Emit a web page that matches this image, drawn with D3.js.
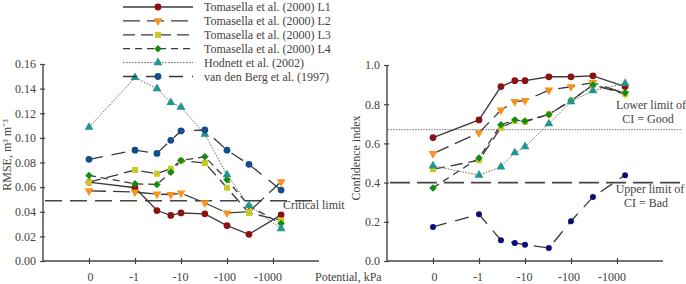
<!DOCTYPE html>
<html><head><meta charset="utf-8">
<script src="https://cdn.jsdelivr.net/npm/d3@7"></script>
<style>body{margin:0;background:#fff}svg{display:block}svg text{font-family:"Liberation Serif","Times New Roman",serif !important;fill:#444}</style>
</head><body><svg id="c" width="686" height="284"></svg>
<script>
// ---- data ----
const potentials = [0, -1, -3, -6, -10, -33, -100, -300, -1500];
const tickValues = [0, -1, -10, -100, -1000];
const tickLabels = ["0", "-1", "-10", "-100", "-1000"];
const seriesNames = ["Tomasella et al. (2000) L1", "Tomasella et al. (2000) L2", "Tomasella et al. (2000) L3",
  "Tomasella et al. (2000) L4", "Hodnett et al. (2002)", "van den Berg et al. (1997)"];
const rmseL1 = [0.064, 0.0595, 0.041, 0.037, 0.039, 0.0383, 0.0288, 0.0217, 0.0375];
const rmseL2 = [0.057, 0.056, 0.0543, 0.054, 0.0551, 0.0472, 0.039, 0.040, 0.0644];
const rmseL3 = [0.064, 0.0739, 0.0709, 0.075, 0.0815, 0.0796, 0.0595, 0.039, 0.033];
const rmseL4 = [0.0695, 0.0627, 0.0622, 0.072, 0.0817, 0.0847, 0.066, 0.0448, 0.0304];
const rmseHod = [0.1086, 0.149, 0.140, 0.1287, 0.125, 0.103, 0.070, 0.045, 0.0263];
const rmseVdb = [0.0826, 0.090, 0.0874, 0.098, 0.1056, 0.1064, 0.090, 0.0785, 0.0576];
const ciL1 = [0.63, 0.72, 0.89, 0.92, 0.92, 0.94, 0.94, 0.945, 0.89];
const ciL2 = [0.548, 0.654, 0.77, 0.813, 0.818, 0.872, 0.889, 0.91, 0.855];
const ciL3 = [0.468, 0.514, 0.68, 0.715, 0.71, 0.748, 0.818, 0.898, 0.852];
const ciL4 = [0.373, 0.526, 0.695, 0.72, 0.714, 0.748, 0.818, 0.898, 0.859];
const ciHod = [0.485, 0.438, 0.48, 0.552, 0.583, 0.70, 0.813, 0.869, 0.906];
const ciVdb = [0.174, 0.238, 0.106, 0.092, 0.083, 0.066, 0.203, 0.327, 0.438];
const rmseTicks = [0, 0.02, 0.04, 0.06, 0.08, 0.10, 0.12, 0.14, 0.16];
const ciTicks = [0, 0.2, 0.4, 0.6, 0.8, 1.0];
const criticalLimit = 0.049;
const ciGood = 0.67;
const ciBad = 0.40;

// ---- styles ----
const FONT = "Liberation Serif";
const styles = [
  {dash: null, shape: "circle", color: "#8b1212"},
  {dash: "17,7", shape: "tri", color: "#f7931e"},
  {dash: "12,6", shape: "square", color: "#c9c926"},
  {dash: "7,5", shape: "diamond", color: "#128c12"},
  {dash: "1.6,1.4", shape: "triup", color: "#21958f", thin: true},
  {dash: "14,9", shape: "circle", color: "#144c8c"}
];
const lineColor = "#3a3a3a";
const svg = d3.select("#c");

function pos(p) { return p === 0 ? 0.1 : Math.abs(p); }

function marker(g, shape, color, x, y, small) {
  let sym, size, rot = 0;
  if (shape === "circle") { sym = d3.symbolCircle; size = small ? 28 : 36; }
  else if (shape === "tri") { sym = d3.symbolTriangle; size = 34; rot = 180; }
  else if (shape === "triup") { sym = d3.symbolTriangle; size = 34; }
  else if (shape === "square") { sym = d3.symbolSquare; size = 36; }
  else { sym = d3.symbolSquare; size = 28; rot = 45; }
  g.append("path").attr("d", d3.symbol(sym, size)())
    .attr("transform", `translate(${x},${y}) rotate(${rot})`).attr("fill", color);
}

function txt(g, x, y, s, anchor) {
  return g.append("text").attr("x", x).attr("y", y).attr("font-size", 12).attr("font-family", FONT)
    .attr("fill", "#444").attr("text-anchor", anchor || "start").text(s);
}

function panel(cfg) {
  const x = d3.scaleLog().domain([0.01, 10000]).range([cfg.x0, cfg.x0 + 276]);
  const y = d3.scaleLinear().domain(cfg.domain).range([261, cfg.top]);
  const g = svg.append("g");
  const ya = d3.axisLeft(y).tickValues(cfg.ticks).tickFormat(d3.format(cfg.fmt)).tickSize(3).tickPadding(4);
  const yg = g.append("g").attr("transform", `translate(${cfg.x0},0)`).call(ya).attr("font-family", FONT);
  yg.select(".domain").attr("stroke", "#444").attr("stroke-width", 1.4).attr("d", `M0,${cfg.top}V261`);
  yg.selectAll(".tick line").attr("stroke", "#444").attr("stroke-width", 1.2).attr("x2", -3).attr("x1", 2);
  yg.selectAll(".tick text").attr("font-size", 12).attr("fill", "#444");
  const xa = d3.axisBottom(x).tickValues(tickValues.map(pos)).tickFormat((d, i) => tickLabels[i]).tickSize(3).tickPadding(8);
  const xg = g.append("g").attr("transform", "translate(0,261)").call(xa).attr("font-family", FONT);
  xg.select(".domain").attr("stroke", "#444").attr("stroke-width", 1.4).attr("d", `M${cfg.x0},0H${cfg.x0 + 276}`);
  xg.selectAll(".tick line").attr("stroke", "#444").attr("stroke-width", 1.2).attr("y1", -3).attr("y2", 3);
  const dxs = [1, -1.5, -1, -2.5, -5.5];
  xg.selectAll(".tick text").attr("font-size", 12).attr("fill", "#444").attr("dx", (d, i) => dxs[i]);
  cfg.refs(g, x, y);
  const line = d3.line().x((d, i) => x(pos(potentials[i]))).y(d => y(d));
  cfg.series.forEach((s, k) => {
    const st = styles[k];
    const p = g.append("path").attr("d", line(s)).attr("fill", "none")
      .attr("stroke", st.thin ? "#6a6a6a" : lineColor).attr("stroke-width", st.thin ? 1 : 1.3);
    if (st.dash) p.attr("stroke-dasharray", st.dash);
  });
  cfg.series.forEach((s, k) => {
    const st = styles[k];
    const isV = k === 5 && cfg.vdbColor;
    const col = isV ? cfg.vdbColor : st.color;
    s.forEach((v, i) => marker(g, st.shape, col, x(pos(potentials[i])), y(v), isV));
  });
}

panel({
  x0: 43, top: 64, domain: [0, 0.16], ticks: rmseTicks, fmt: ".2f",
  series: [rmseL1, rmseL2, rmseL3, rmseL4, rmseHod, rmseVdb],
  refs: (g, x, y) => {
    g.append("line").attr("x1", 45).attr("x2", 313).attr("y1", y(criticalLimit)).attr("y2", y(criticalLimit))
      .attr("stroke", "#444").attr("stroke-width", 1.5).attr("stroke-dasharray", "17,8");
    txt(g, 283, 209, "Critical limit");
  }
});
panel({
  x0: 387, top: 65, domain: [0, 1], ticks: ciTicks, fmt: ".1f", vdbColor: "#0c0c7a",
  series: [ciL1, ciL2, ciL3, ciL4, ciHod, ciVdb],
  refs: (g, x, y) => {
    g.append("line").attr("x1", 388).attr("x2", 682).attr("y1", y(ciGood)).attr("y2", y(ciGood))
      .attr("stroke", "#777").attr("stroke-width", 1).attr("stroke-dasharray", "1.5,1.2");
    g.append("line").attr("x1", 390).attr("x2", 681).attr("y1", y(ciBad)).attr("y2", y(ciBad))
      .attr("stroke", "#444").attr("stroke-width", 1.8).attr("stroke-dasharray", "20,7");
    txt(g, 651, 109, "Lower limit of", "middle");
    txt(g, 648, 123, "CI = Good", "middle");
    txt(g, 650, 193, "Upper limit of", "middle");
    txt(g, 646, 207, "CI = Bad", "middle");
  }
});

// axis titles
txt(svg, 0, 0, "RMSE, m³ m⁻³", "middle").attr("x", null).attr("y", null).attr("transform", "translate(11,155) rotate(-90)");
txt(svg, 0, 0, "Confidence index", "middle").attr("x", null).attr("y", null).attr("transform", "translate(360,158) rotate(-90)");
txt(svg, 315, 281, "Potential, kPa");

// legend
const lg = svg.append("g");
seriesNames.forEach((name, k) => {
  const st = styles[k];
  const yy = 7 + 13.9 * k;
  const l = lg.append("line").attr("x1", 123).attr("x2", 193).attr("y1", yy).attr("y2", yy)
    .attr("stroke", st.thin ? "#6a6a6a" : lineColor).attr("stroke-width", st.thin ? 1 : 1.3);
  if (st.dash) l.attr("stroke-dasharray", st.dash);
  marker(lg, st.shape, st.color, 158, yy);
  txt(lg, 204, yy + 4, name);
});
</script></body></html>
